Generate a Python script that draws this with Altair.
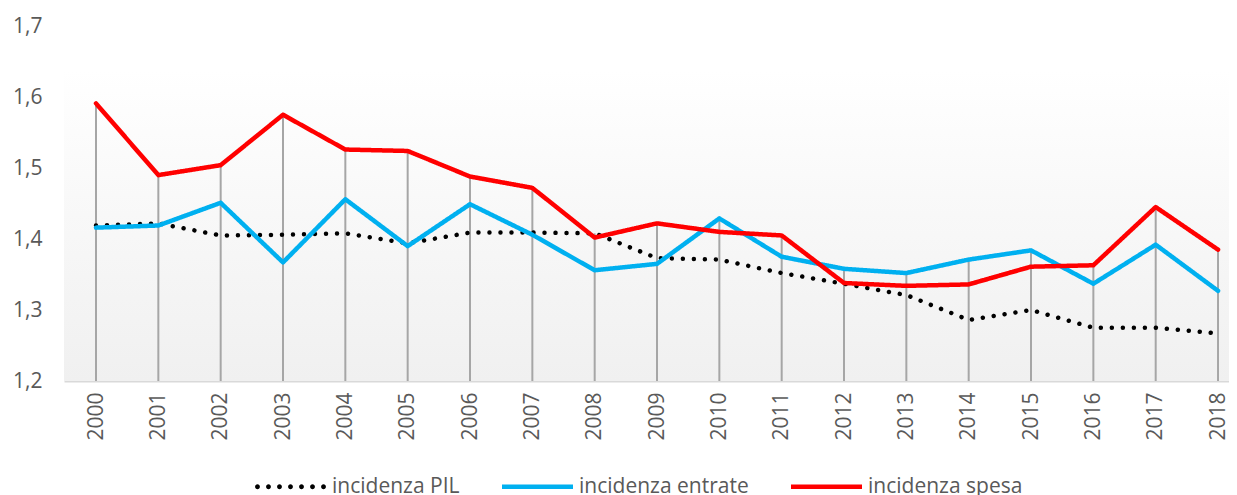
import altair as alt
import pandas as pd

years = [2000, 2001, 2002, 2003, 2004, 2005, 2006, 2007, 2008, 2009,
         2010, 2011, 2012, 2013, 2014, 2015, 2016, 2017, 2018]
pil = [1.419, 1.422, 1.405, 1.406, 1.408, 1.394, 1.409, 1.409, 1.408, 1.373,
       1.371, 1.352, 1.337, 1.321, 1.286, 1.300, 1.275, 1.275, 1.267]
entrate = [1.416, 1.419, 1.451, 1.367, 1.456, 1.390, 1.449, 1.406, 1.356, 1.365,
           1.429, 1.375, 1.358, 1.352, 1.371, 1.384, 1.337, 1.392, 1.327]
spesa = [1.591, 1.490, 1.504, 1.575, 1.526, 1.524, 1.488, 1.472, 1.402, 1.422,
         1.410, 1.405, 1.338, 1.334, 1.336, 1.361, 1.363, 1.445, 1.385]
series_names = ["incidenza PIL", "incidenza entrate", "incidenza spesa"]
series_colors = ["#000000", "#00b0f0", "#ff0000"]
series_dash = [[0.01, 11], [1, 0], [1, 0]]
y_ticks = [1.2, 1.3, 1.4, 1.5, 1.6, 1.7]

rows = []
for name, vals in zip(series_names, [pil, entrate, spesa]):
    for yr, v in zip(years, vals):
        rows.append({"year": yr, "value": v, "series": name})
df = pd.DataFrame(rows)

W, H = 1165, 355
FONT = "Open Sans"
TXT = "#595959"


# legend symbol shapes (unit square [-1, 1] -> 71 px wide)
def dots_path(n=7, r=0.068, span=0.93):
    parts = []
    step = 2 * span / (n - 1)
    for i in range(n):
        cx = -span + i * step
        parts.append(f"M{cx - r:.4f},0a{r},{r} 0 1,0 {2 * r},0a{r},{r} 0 1,0 {-2 * r},0Z")
    return "".join(parts)


bar_path = "M-1,-0.0634H1V0.0634H-1Z"
legend_shapes = [dots_path(), bar_path, bar_path]

xscale = alt.Scale(domain=[1999.4866, 2018.176], nice=False, zero=False)
yscale = alt.Scale(domain=[1.2, 1.7], nice=False, zero=False)
cscale = alt.Scale(domain=series_names, range=series_colors)

bg = alt.Chart(alt.Data(values=[{"a": 1}])).mark_rect(
    color=alt.LinearGradient(
        gradient="linear",
        stops=[alt.GradientStop(offset=0, color="#ffffff"),
               alt.GradientStop(offset=1, color="#f0f0f0")],
        x1=0, x2=0, y1=0, y2=1,
    )
).encode(x=alt.value(0), x2=alt.value(W), y=alt.value(44), y2=alt.value(H))

xaxis = alt.Axis(values=years, format="d", labelAngle=-90, labelPadding=11,
                 labelFlush=False, labelOverlap=False)
yaxis = alt.Axis(values=y_ticks,
                 labelExpr="replace(format(datum.value, '.1f'), '.', ',')",
                 labelPadding=22, domain=False, grid=False, ticks=False)

rules = alt.Chart(df).mark_rule(color="#a6a6a6", strokeWidth=2).encode(
    x=alt.X("year:Q", scale=xscale, axis=xaxis),
    y=alt.Y("max(value):Q", scale=yscale, axis=yaxis),
    y2=alt.datum(1.2),
)

line_layers = []
for name, col, dash in zip(series_names, series_colors, series_dash):
    line_layers.append(
        alt.Chart(df[df["series"] == name]).mark_line(
            color=col, strokeDash=dash, strokeWidth=4.5,
            strokeCap="round", strokeJoin="round",
        ).encode(
            x=alt.X("year:Q", scale=xscale),
            y=alt.Y("value:Q", scale=yscale),
        )
    )

leg = dict(
    orient="none", legendX=191, legendY=425, direction="horizontal",
    columns=3, title=None, padding=0,
    symbolSize=5041, symbolStrokeWidth=0, symbolOpacity=1,
    labelFont=FONT, labelFontSize=21, labelColor=TXT, labelLimit=400,
    labelOffset=6, columnPadding=42,
)

legend_layer = alt.Chart(df).mark_point(filled=True, opacity=0, size=1).encode(
    x=alt.X("year:Q", scale=xscale),
    y=alt.Y("value:Q", scale=yscale),
    color=alt.Color("series:N", scale=cscale, legend=alt.Legend(**leg)),
    shape=alt.Shape("series:N",
                    scale=alt.Scale(domain=series_names, range=legend_shapes),
                    legend=alt.Legend(**leg)),
)

chart = alt.layer(bg, rules, *line_layers, legend_layer).properties(
    width=W, height=H,
    autosize=alt.AutoSizeParams(type="none"),
    padding={"left": 56, "top": 18, "right": 0, "bottom": 114},
).configure(font=FONT).configure_view(stroke=None, strokeWidth=0).configure_axis(
    ticks=False, tickSize=0, grid=False, domain=False, title=None,
    labelFont=FONT, labelFontSize=21, labelColor=TXT,
).configure_axisX(
    domain=True, domainColor="#d9d9d9", domainWidth=2, zindex=1,
).configure_axisY(
    domain=False, grid=False,
)

chart.save("out.html", embed_options={"renderer": "svg", "actions": False})
